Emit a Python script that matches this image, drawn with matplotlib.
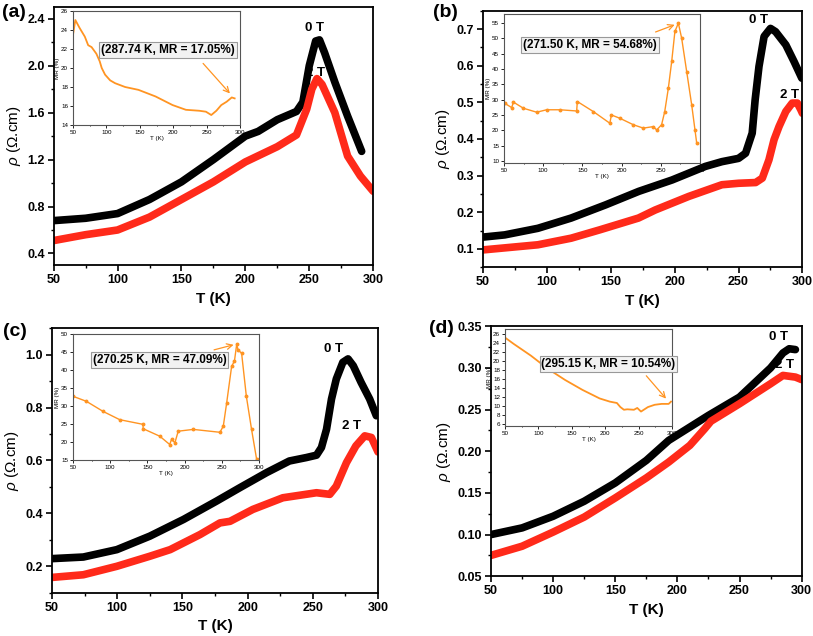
import matplotlib.pyplot as plt
from matplotlib.ticker import MultipleLocator

plt.rcParams['font.family'] = ['Liberation Sans', 'DejaVu Sans']
plt.rcParams['mathtext.fontset'] = 'custom'
plt.rcParams['mathtext.it'] = 'Liberation Sans:italic'

# ---- panel (a) ----
a_t0 = [50, 75, 100, 125, 150, 175, 200, 210, 225, 240, 245, 250, 255, 258, 262, 270, 280, 291]
a_r0 = [0.68, 0.70, 0.74, 0.86, 1.01, 1.20, 1.40, 1.44, 1.54, 1.61, 1.69, 2.00, 2.21, 2.22, 2.11, 1.86, 1.57, 1.27]
a_t2 = [50, 75, 100, 125, 150, 175, 200, 225, 240, 248, 252, 256, 260, 270, 280, 290, 300]
a_r2 = [0.51, 0.56, 0.60, 0.71, 0.86, 1.01, 1.18, 1.31, 1.41, 1.63, 1.80, 1.89, 1.84, 1.60, 1.23, 1.06, 0.93]
a_mt = [50, 53.5, 60, 67.7, 72.7, 77.8, 85, 90, 93, 98, 105.6, 113, 128, 148, 173.7, 199, 219, 239, 249, 257,
        264.6, 272, 280, 287.7, 292]
a_mr = [23.5, 25.05, 24.2, 23.3, 22.4, 22.2, 21.5, 20.7, 20.0, 19.3, 18.7, 18.4, 18.0, 17.7, 17.0, 16.1, 15.6,
        15.5, 15.4, 15.05, 15.5, 16.1, 16.45, 16.9, 16.8]

# ---- panel (b) ----
b_t0 = [50, 67, 93, 119, 146, 172, 198, 224, 237, 250, 255.5, 260.7, 263, 266, 270, 275, 279, 287, 293.5, 299.5]
b_r0 = [0.132, 0.138, 0.156, 0.184, 0.220, 0.257, 0.288, 0.325, 0.338, 0.347, 0.361, 0.416, 0.507, 0.598,
        0.680, 0.702, 0.693, 0.657, 0.611, 0.566]
b_t2 = [50, 93, 119, 141.6, 171.7, 184.8, 211, 237, 250, 263.4, 268.6, 273.8, 277.8, 281.7, 287, 292, 296,
        298.7, 300]
b_r2 = [0.097, 0.111, 0.129, 0.152, 0.184, 0.206, 0.243, 0.275, 0.279, 0.281, 0.293, 0.343, 0.398, 0.434,
        0.475, 0.498, 0.498, 0.480, 0.470]
b_mt = [51, 59.8, 62, 74.7, 91.7, 104.4, 121.4, 142.7, 143.5, 164, 185, 187, 198, 215, 227.7, 240.5, 244.7,
        251, 255, 259.6, 263.9, 268, 272.4, 276.6, 283, 289.4, 293.6, 295.8]
b_mr = [28.8, 27.4, 29.2, 27.2, 25.9, 26.7, 26.7, 26.3, 29.4, 26.1, 22.3, 25.0, 23.9, 21.8, 20.7, 21.2, 20.1,
        21.8, 26.1, 33.7, 42.5, 52.3, 55.0, 50.1, 39.2, 28.3, 20.1, 15.8]

# ---- panel (c) ----
c_t0 = [50, 74, 99.7, 125, 150.8, 176, 194, 214.5, 232, 245, 252.8, 256.6, 260.5, 264.3, 268, 273, 277, 281,
        287, 293.6, 298.7]
c_r0 = [0.229, 0.235, 0.263, 0.314, 0.377, 0.446, 0.497, 0.554, 0.598, 0.611, 0.620, 0.649, 0.718, 0.832,
        0.908, 0.971, 0.984, 0.958, 0.895, 0.832, 0.769]
c_t2 = [50, 74, 99.7, 125, 140.6, 163.5, 178.8, 186.5, 204, 227, 252.8, 263, 268, 275.8, 283, 289.8, 294.9, 300]
c_r2 = [0.158, 0.168, 0.200, 0.238, 0.263, 0.320, 0.364, 0.370, 0.415, 0.459, 0.478, 0.472, 0.503, 0.592,
        0.655, 0.693, 0.687, 0.632]
c_mt = [50, 68, 90.4, 112.8, 144.2, 144.2, 166.7, 180, 182.4, 187, 191.4, 211.6, 247.5, 252, 256.5, 263.2, 267,
        270, 272, 276.6, 283, 290, 296.8]
c_mr = [32.7, 31.3, 28.5, 26.2, 24.9, 23.7, 21.6, 19.3, 20.7, 19.8, 23.0, 23.5, 22.7, 24.4, 30.8, 41.0, 42.5,
        47.1, 45.5, 44.7, 32.7, 23.5, 15.2]

# ---- panel (d) ----
d_t0 = [50, 75, 100, 125, 150, 175, 193, 225, 250, 275, 285, 290, 295]
d_r0 = [0.100, 0.108, 0.122, 0.140, 0.162, 0.189, 0.213, 0.243, 0.265, 0.300, 0.318, 0.323, 0.322]
d_t2 = [50, 75, 100, 125, 150, 175, 193, 210, 222, 227, 250, 275, 285, 295, 300]
d_r2 = [0.075, 0.086, 0.103, 0.121, 0.144, 0.168, 0.187, 0.207, 0.227, 0.236, 0.257, 0.281, 0.291, 0.289, 0.286]
d_mt = [50, 63, 88.7, 114, 140, 166, 191.8, 207, 217.5, 222.7, 228, 233, 243, 248, 253.6, 264, 274, 284.5, 295,
        298.5]
d_mr = [25.1, 23.7, 21.1, 18.2, 15.7, 13.5, 11.6, 10.9, 10.6, 9.7, 9.1, 9.2, 9.1, 9.5, 8.7, 9.7, 10.2, 10.4,
        10.4, 10.9]

panels = [
    dict(tag='(a)', pos=[0.066, 0.583, 0.393, 0.406], ylim=(0.3, 2.5), ymaj=0.4, ymin=0.2, yfmt='%.1f',
         t0=a_t0, r0=a_r0, t2=a_t2, r2=a_r2, lab0=(254, 2.32), lab2=(255, 1.94), tagxy=(0.002, 0.993),
         ins=[73, 11, 240, 125], mt=a_mt, mr=a_mr, mylim=(14, 26), mymaj=2,
         note='(287.74 K, MR = 17.05%)', notexy=(192, 21.9), arr_from=(242, 20.7), arr_to=(287.7, 17.1),
         markers=False),
    dict(tag='(b)', pos=[0.594, 0.580, 0.393, 0.403], ylim=(0.05, 0.75), ymaj=0.1, ymin=0.05, yfmt='%.1f',
         t0=b_t0, r0=b_r0, t2=b_t2, r2=b_r2, lab0=(266, 0.724), lab2=(289.5, 0.52), tagxy=(0.533, 0.993),
         ins=[504, 14, 700, 163], mt=b_mt, mr=b_mr, mylim=(9.3, 58), mymaj=5,
         note='(271.50 K, MR = 54.68%)', notexy=(159.7, 47.8), arr_from=(240, 51.8), arr_to=(271.0, 54.8),
         markers=True),
    dict(tag='(c)', pos=[0.064, 0.068, 0.401, 0.416], ylim=(0.1, 1.1), ymaj=0.2, ymin=0.1, yfmt='%.1f',
         t0=c_t0, r0=c_r0, t2=c_t2, r2=c_r2, lab0=(265.5, 1.02), lab2=(279.6, 0.73), tagxy=(0.004, 0.492),
         ins=[73, 334, 259, 460], mt=c_mt, mr=c_mr, mylim=(15, 50), mymaj=5,
         note='(270.25 K, MR = 47.09%)', notexy=(166.7, 42.8), arr_from=(236, 45.4), arr_to=(269.5, 47.2),
         markers=True),
    dict(tag='(d)', pos=[0.604, 0.094, 0.382, 0.393], ylim=(0.05, 0.35), ymaj=0.05, ymin=0.025, yfmt='%.2f',
         t0=d_t0, r0=d_r0, t2=d_t2, r2=d_r2, lab0=(281, 0.337), lab2=(286.5, 0.303), tagxy=(0.528, 0.497),
         ins=[505, 329, 672, 426], mt=d_mt, mr=d_mr, mylim=(5.5, 27), mymaj=2,
         note='(295.15 K, MR = 10.54%)', notexy=(205, 19.2), arr_from=(258.8, 17.1), arr_to=(293.8, 11.1),
         markers=False),
]

W, H = 813, 636
fig = plt.figure(figsize=(W / 100, H / 100), dpi=100)
orange = '#ff9422'

for p in panels:
    ax = fig.add_axes(p['pos'])
    ax.plot(p['t0'], p['r0'], color='black', lw=5.5, solid_capstyle='round', solid_joinstyle='round')
    ax.plot(p['t2'], p['r2'], color='#ff2a1a', lw=5.5, solid_capstyle='round', solid_joinstyle='round')
    ax.set_xlim(50, 300)
    ax.set_ylim(*p['ylim'])
    ax.xaxis.set_major_locator(MultipleLocator(50))
    ax.xaxis.set_minor_locator(MultipleLocator(25))
    ax.yaxis.set_major_locator(MultipleLocator(p['ymaj']))
    ax.yaxis.set_minor_locator(MultipleLocator(p['ymin']))
    ax.yaxis.set_major_formatter(plt.FormatStrFormatter(p['yfmt']))
    ax.tick_params(which='major', direction='out', length=4, width=1.2, labelsize=9, pad=2.5)
    ax.tick_params(which='minor', direction='out', length=2.5, width=1)
    for lbl in ax.get_xticklabels() + ax.get_yticklabels():
        lbl.set_fontweight('bold')
    for s in ax.spines.values():
        s.set_linewidth(1.3)
    ax.set_xlabel('T (K)', fontsize=11, fontweight='bold', labelpad=4)
    ax.set_ylabel(r'$\rho$ (Ω.cm)', fontsize=11, labelpad=3)
    ax.text(*p['lab0'], '0 T', fontsize=9.5, fontweight='bold', ha='center', va='center')
    ax.text(*p['lab2'], '2 T', fontsize=9.5, fontweight='bold', ha='center', va='center')
    fig.text(*p['tagxy'], p['tag'], fontsize=14, fontweight='bold', va='top')

    # inset with magnetoresistance
    x0, y0, x1, y1 = p['ins']
    ia = fig.add_axes([x0 / W, 1 - y1 / H, (x1 - x0) / W, (y1 - y0) / H])
    if p['markers']:
        ia.plot(p['mt'], p['mr'], color=orange, lw=1, marker='o', ms=1.8)
    else:
        ia.plot(p['mt'], p['mr'], color=orange, lw=1.3)
    ia.set_xlim(50, 300)
    ia.set_ylim(*p['mylim'])
    ia.xaxis.set_major_locator(MultipleLocator(50))
    ia.xaxis.set_minor_locator(MultipleLocator(25))
    ia.yaxis.set_major_locator(MultipleLocator(p['mymaj']))
    ia.tick_params(which='both', direction='out', length=2, width=0.6, labelsize=4.5, pad=1.5)
    ia.tick_params(which='minor', length=1)
    for s in ia.spines.values():
        s.set_linewidth(0.8)
        s.set_color('#555555')
    ia.set_xlabel('T (K)', fontsize=4.5, labelpad=1)
    ia.set_ylabel('MR (%)', fontsize=4.5, labelpad=1)
    ia.annotate('', xy=p['arr_to'], xytext=p['arr_from'],
                arrowprops=dict(arrowstyle='->', color=orange, lw=0.9))
    ia.text(*p['notexy'], p['note'], fontsize=8.5, fontweight='bold', ha='center', va='center',
            bbox=dict(boxstyle='square,pad=0.15', fc='#f2f2f2', ec='#999999', lw=0.8))

fig.savefig('out.png', dpi=100)
